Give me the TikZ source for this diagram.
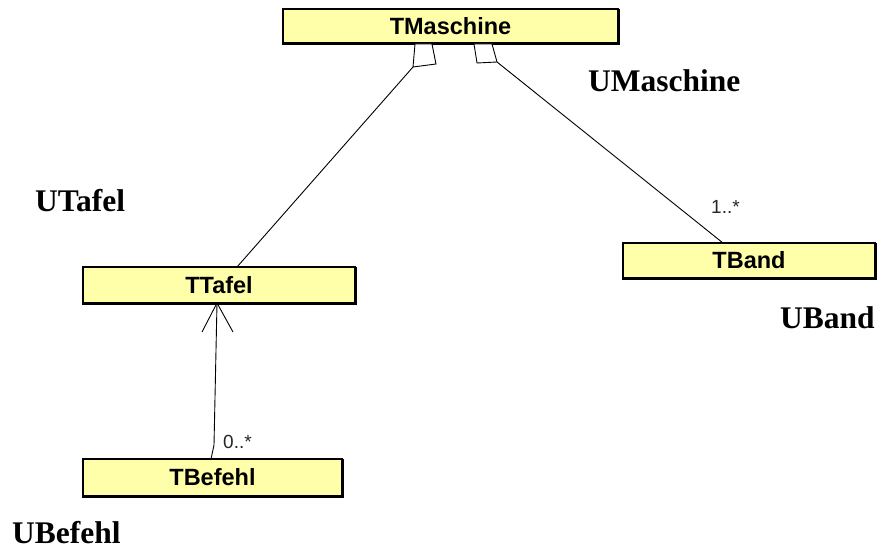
\documentclass[tikz,border=0pt]{standalone}
\usepackage{fontspec}
\setmainfont{Liberation Serif}
\setsansfont{Liberation Sans}
\definecolor{boxfill}{RGB}{255,255,170}
\begin{document}
\begin{tikzpicture}[x=1pt,y=-1pt,
  cls/.style={draw=black, line width=1.2pt, fill=boxfill, inner sep=0pt,
    font=\sffamily\bfseries\fontsize{23.5}{23.5}\selectfont},
  unit/.style={anchor=base west, inner sep=0pt,
    font=\bfseries\fontsize{31.5}{31.5}\selectfont},
  mult/.style={anchor=base west, inner sep=0pt, text=black!85,
    font=\sffamily\fontsize{19}{19}\selectfont},
  conn/.style={draw=black, line width=0.9pt}]
\useasboundingbox (0,0) rectangle (877,553);
% classes
\node[cls, minimum width=335pt, minimum height=34pt] (masch) at (450.5,26) {TMaschine};
\node[cls, minimum width=272pt, minimum height=36pt] (tafel) at (219,285) {TTafel};
\node[cls, minimum width=259pt, minimum height=37pt] (befehl) at (212.5,477.5) {TBefehl};
\node[cls, minimum width=252pt, minimum height=35pt] (band) at (749,260.5) {TBand};
% shadows (thick bottom/right edges)
\foreach \n in {masch,tafel,befehl,band}{
  \draw[line width=2.6pt] ([yshift=-1pt]\n.north east) -- (\n.south east) -- (\n.south west);
}
% unit labels
\node[unit] (um) at (588,92) {UMaschine};
\node[unit] (ut) at (35,212) {UTafel};
\node[unit] (ub) at (780,328) {UBand};
\node[unit] (ube) at (12,543) {UBefehl};
% aggregation diamond 1 (TTafel)
\coordinate (d1a) at (415,44);
\coordinate (d1b) at (432,44);
\coordinate (d1c) at (436,64);
\coordinate (d1d) at (413,67);
\draw[conn, fill=white] (d1a) -- (d1b) -- (d1c) -- (d1d) -- cycle;
\coordinate (t1) at (237,267);
\draw[conn] (d1d) -- (t1);
% aggregation diamond 2 (TBand)
\coordinate (d2a) at (474,44);
\coordinate (d2b) at (492,44);
\coordinate (d2c) at (497,62);
\coordinate (d2d) at (477,63);
\draw[conn, fill=white] (d2a) -- (d2b) -- (d2c) -- (d2d) -- cycle;
\coordinate (t2) at (723,243);
\draw[conn] (d2c) -- (t2);
\node[mult] (m1) at (711,214) {1..*};
% navigable association TBefehl -> TTafel
\coordinate (a0) at (211,459);
\coordinate (a1) at (214,445);
\coordinate (tip) at (217,303);
\coordinate (armL) at (202,332);
\coordinate (armR) at (233,332);
\draw[conn] (a0) -- (a1) -- (tip);
\draw[conn] (armL) -- (tip) -- (armR);
\node[mult] (m2) at (223,448) {0..*};
\end{tikzpicture}
\end{document}
